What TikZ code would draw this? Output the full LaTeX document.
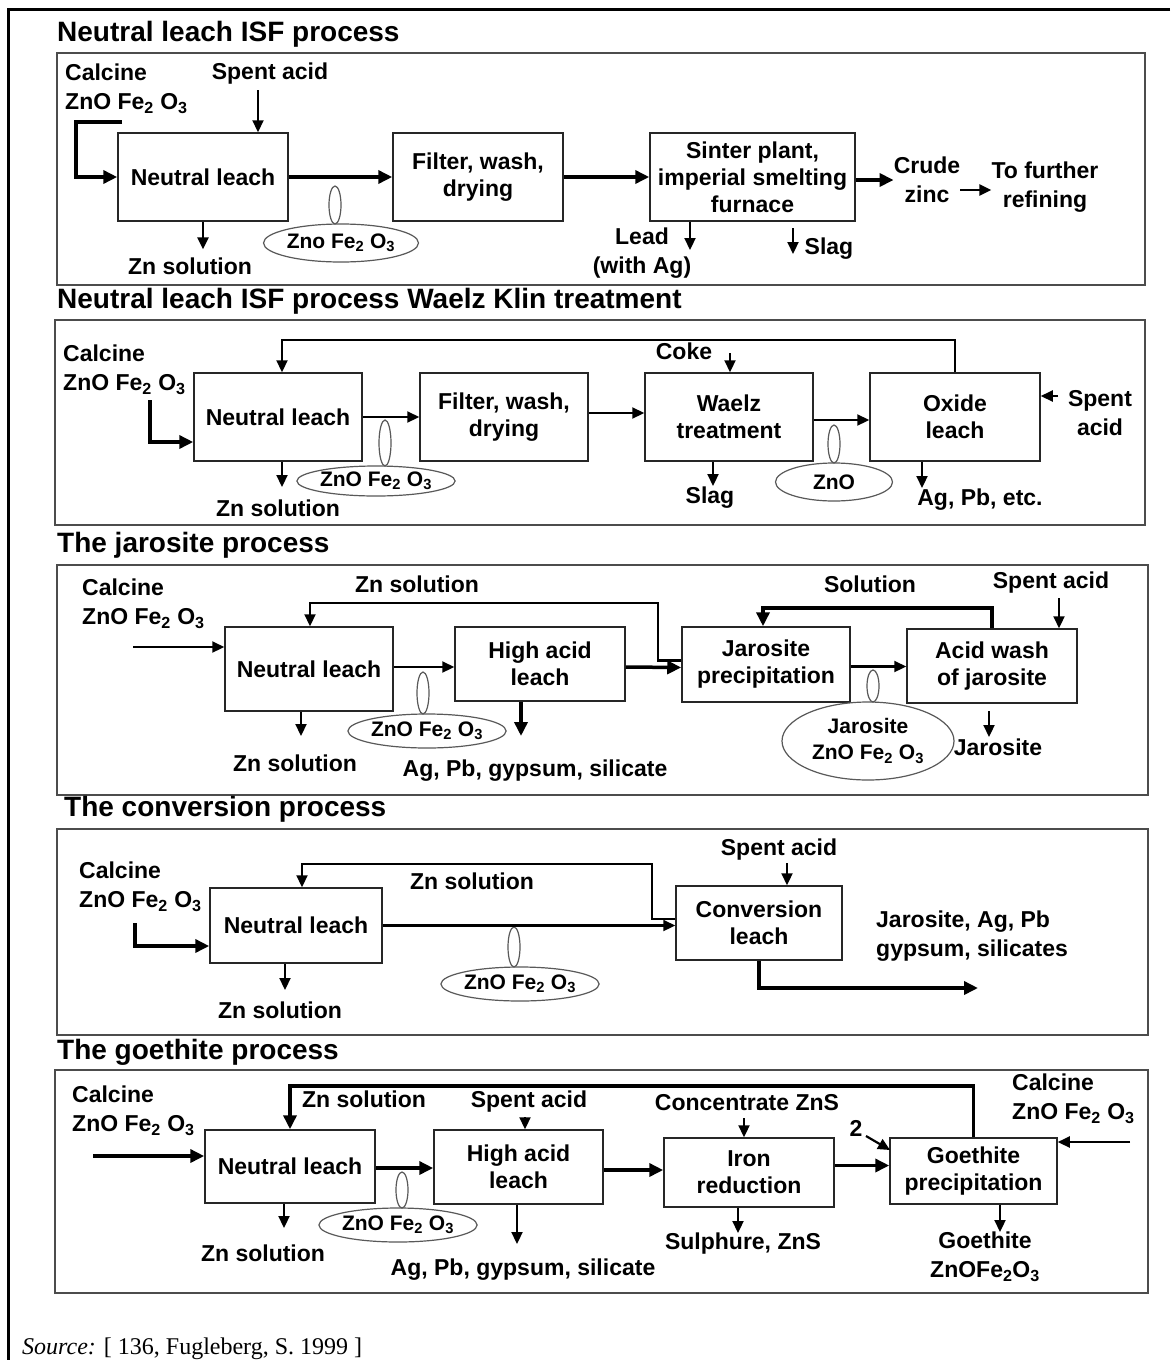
\documentclass[tikz,border=0pt]{standalone}
\usepackage{fontspec}
\setmainfont{Liberation Sans}
\newfontfamily\srcfont{Liberation Serif}
\usetikzlibrary{arrows.meta,shapes.geometric}
\newcommand\fetwo{ZnO Fe\textsubscript{2} O\textsubscript{3}}
\begin{document}
\begin{tikzpicture}[x=1pt,y=-1pt,
  tt/.style={font=\fontsize{28}{32}\selectfont\bfseries, anchor=west, inner sep=0},
  panel/.style={draw=black!70, line width=2pt},
  proc/.style={draw=black!85, line width=1.5pt, align=center, inner sep=0, font=\fontsize{23}{27}\selectfont\bfseries},
  lbl/.style={font=\fontsize{23}{29}\selectfont\bfseries, align=center, inner sep=0},
  ell/.style={ellipse, draw=black!65, line width=1.2pt, inner sep=0, align=center, font=\fontsize{21}{26}\selectfont\bfseries},
  fl/.style={line width=3.5pt, -{Triangle[length=14pt,width=13pt]}},
  fn/.style={line width=2.2pt, -{Triangle[length=12pt,width=11pt]}}
]
\useasboundingbox (0,0) rectangle (1170,1360);
\fill[white] (0,0) rectangle (1170,1360);
\draw[line width=3pt] (1170,9) -- (8,9) -- (8,1360);

% ---------------- Panel 1
\node[tt] (t1) at (57,34) {Neutral leach ISF process};
\draw[panel] (57,53) rectangle (1145,285);
\node[lbl, align=left, anchor=west] (ca1) at (65,89) {Calcine\\\fetwo};
\node[lbl] (sa1) at (270,74) {Spent acid};
\node[proc, minimum width=170, minimum height=88] (nl1) at (203,177) {Neutral leach};
\node[proc, minimum width=170, minimum height=88] (fw1) at (478,177) {Filter, wash,\\drying};
\node[proc, minimum width=205, minimum height=88] (sp1) at (752.5,177) {Sinter plant,\\imperial smelting\\furnace};
\node[lbl] (cz1) at (927,180) {Crude\\zinc};
\node[lbl] (tf1) at (1045,187) {To further\\refining};
\node[lbl] (zs1) at (190,266) {Zn solution};
\node[lbl] (ld1) at (642,253) {Lead\\(with Ag)};
\node[lbl] (sl1) at (829,249) {Slag};
\node[ell, minimum width=12, minimum height=38] (pe1) at (335,205) {};
\node[ell, minimum width=155, minimum height=38] (el1) at (341,243) {Zno Fe\textsubscript{2} O\textsubscript{3}};
\coordinate (c1) at (122,122);
\draw[fl] (c1) -- (76,122) |- (nl1.west);
\coordinate (sa1a) at (258,90);
\draw[fn] (sa1a) -- (sa1a |- nl1.north);
\draw[fl] (nl1.east) -- (fw1.west);
\draw[fl] (fw1.east) -- (sp1.west);
\draw[fl] ([yshift=-3pt]sp1.east) -- ([yshift=-3pt]sp1.east -| cz1.west);
\draw[fn] ([yshift=-10pt]cz1.east) -- ([yshift=-10pt]cz1.east -| tf1.west);
\draw[fn] (nl1.south) -- (nl1.south |- zs1.north) [shorten >=8pt];
\coordinate (ld1a) at (690,250);
\draw[fn] (ld1a |- sp1.south) -- (ld1a);
\coordinate (sl1a) at (793,228);
\coordinate (sl1b) at (793,254);
\draw[fn] (sl1a) -- (sl1b);

% ---------------- Panel 2
\node[tt] (t2) at (57,301) {Neutral leach ISF process Waelz Klin treatment};
\draw[panel] (55,320) rectangle (1145,525);
\node[lbl, align=left, anchor=west] (ca2) at (63,370) {Calcine\\\fetwo};
\node[proc, minimum width=168, minimum height=88] (nl2) at (278,417) {Neutral leach};
\node[proc, minimum width=168, minimum height=88] (fw2) at (504,417) {Filter, wash,\\drying};
\node[proc, minimum width=168, minimum height=88] (wz2) at (729,417) {Waelz\\treatment};
\node[proc, minimum width=170, minimum height=88] (ox2) at (955,417) {Oxide\\leach};
\node[lbl] (zs2) at (278,508) {Zn solution};
\node[lbl] (ck2) at (684,351) {Coke};
\node[lbl] (sg2) at (710,498) {Slag};
\node[lbl] (sp2) at (1100,413) {Spent\\acid};
\node[lbl] (ag2) at (980,500) {Ag, Pb, etc.};
\node[ell, minimum width=12, minimum height=46] (pe2a) at (385,443) {};
\node[ell, minimum width=130, minimum height=30] (el2a) at (376,481) {\fetwo};
\node[ell, minimum width=12, minimum height=38] (pe2b) at (834,444) {};
\node[ell, minimum width=117, minimum height=38] (el2b) at (834,482) {ZnO};
\coordinate (fb2) at (282,340);
\draw[fn] (ox2.north) |- (fb2) -- (fb2 |- nl2.north);
\coordinate (c2) at (150,400);
\draw[fl] (c2) |- ([yshift=-25pt]nl2.west);
\draw[fn] (nl2.east) -- (fw2.west);
\draw[fn] ([yshift=4pt]fw2.east) -- ([yshift=4pt]wz2.west);
\draw[fn] ([yshift=-3pt]wz2.east) -- ([yshift=-3pt]ox2.west);
\coordinate (ck2a) at (730,353);
\draw[fn] (ck2a) -- (ck2a |- wz2.north);
\coordinate (zs2a) at (282,487);
\draw[fn] (zs2a |- nl2.south) -- (zs2a);
\coordinate (sg2a) at (713,486);
\draw[fn] (sg2a |- wz2.south) -- (sg2a);
\coordinate (ag2a) at (922,488);
\draw[fn] (ag2a |- ox2.south) -- (ag2a);
\coordinate (sp2a) at (1058,396);
\draw[fn] (sp2a) -- (sp2a -| ox2.east);

% ---------------- Panel 3
\node[tt] (t3) at (57,545) {The jarosite process};
\draw[panel] (57,565) rectangle (1148,795);
\node[lbl, align=left, anchor=west] (ca3) at (82,604) {Calcine\\\fetwo};
\node[proc, minimum width=168, minimum height=84] (nl3) at (309,669) {Neutral leach};
\node[proc, minimum width=170, minimum height=74] (hal3) at (540,664) {High acid\\leach};
\node[proc, minimum width=168, minimum height=75] (jp3) at (766,664.5) {Jarosite\\precipitation};
\node[proc, minimum width=170, minimum height=74] (aw3) at (992,666) {Acid wash\\of jarosite};
\node[lbl] (zl3) at (417,584) {Zn solution};
\node[lbl] (zs3) at (295,763) {Zn solution};
\node[lbl] (ag3) at (535,771) {Ag, Pb, gypsum, silicate};
\node[lbl] (so3) at (870,584) {Solution};
\node[lbl] (sa3) at (1051,583) {Spent acid};
\node[lbl] (ja3) at (998,747) {Jarosite};
\node[ell, minimum width=12, minimum height=42] (pe3a) at (423,693) {};
\node[ell, minimum width=156, minimum height=34] (el3a) at (427,731) {\fetwo};
\node[ell, minimum width=12, minimum height=32] (pe3b) at (873,686) {};
\node[ell, minimum width=172, minimum height=78] (el3b) at (868,741) {Jarosite\\\fetwo};
\coordinate (c3) at (133,647);
\draw[fn] (c3) -- (c3 -| nl3.west);
\coordinate (z3a) at (658,603);
\coordinate (z3b) at (310,603);
\draw[fn] ([yshift=4pt]jp3.west) -| (z3a) -- (z3b) -- (z3b |- nl3.north);
\draw[fn] ([yshift=2pt]nl3.east) -- ([yshift=2pt]nl3.east -| hal3.west);
\draw[fl] ([yshift=-3pt]hal3.east) -- ([yshift=-3pt]jp3.west);
\coordinate (s3) at (763,608);
\draw[fl] (aw3.north) |- (s3) -- (s3 |- jp3.north);
\draw[fn] ([yshift=-2pt]jp3.east) -- ([yshift=-2pt]jp3.east -| aw3.west);
\coordinate (zs3a) at (301,736);
\draw[fn] (zs3a |- nl3.south) -- (zs3a);
\coordinate (ag3a) at (521,736);
\draw[fl] (ag3a |- hal3.south) -- (ag3a);
\coordinate (sa3a) at (1059,598);
\draw[fn] (sa3a) -- (sa3a |- aw3.north);
\coordinate (ja3a) at (989,737);
\coordinate (ja3b) at (989,711);
\draw[fn] (ja3b) -- (ja3a);

% ---------------- Panel 4
\node[tt] (t4) at (64,809) {The conversion process};
\draw[panel] (57,829) rectangle (1148,1035);
\node[lbl, align=left, anchor=west] (ca4) at (79,887) {Calcine\\\fetwo};
\node[proc, minimum width=172, minimum height=75] (nl4) at (296,925.5) {Neutral leach};
\node[proc, minimum width=166, minimum height=74] (cl4) at (759,923) {Conversion\\leach};
\node[lbl] (zl4) at (472,881) {Zn solution};
\node[lbl] (zs4) at (280,1010) {Zn solution};
\node[lbl] (sa4) at (779,850) {Spent acid};
\node[lbl, align=left, anchor=west] (ou4) at (876,936) {Jarosite, Ag, Pb\\gypsum, silicates};
\node[ell, minimum width=12, minimum height=40] (pe4) at (514,947) {};
\node[ell, minimum width=155, minimum height=34] (el4) at (520,984) {\fetwo};
\coordinate (c4) at (135,923);
\draw[fl] (c4) |- ([yshift=-20.5pt]nl4.west);
\draw[fn] (nl4.east) -- (nl4.east -| cl4.west);
\coordinate (z4a) at (652,864);
\coordinate (z4b) at (302,864);
\draw[fn] ([yshift=4pt]cl4.west) -| (z4a) -- (z4b) -- (z4b |- nl4.north);
\coordinate (sa4a) at (787,863);
\draw[fn] (sa4a) -- (sa4a |- cl4.north);
\coordinate (zs4a) at (285,990);
\draw[fn] (zs4a |- nl4.south) -- (zs4a);
\coordinate (o4) at (978,988);
\draw[fl] (cl4.south) |- (o4);

% ---------------- Panel 5
\node[tt] (t5) at (57,1052) {The goethite process};
\draw[panel] (55,1070) rectangle (1148,1293);
\node[lbl, align=left, anchor=west] (ca5) at (72,1111) {Calcine\\\fetwo};
\node[lbl, align=left, anchor=west] (cr5) at (1012,1099) {Calcine\\\fetwo};
\node[proc, minimum width=170, minimum height=73] (nl5) at (290,1166.5) {Neutral leach};
\node[proc, minimum width=169, minimum height=74] (hal5) at (518.5,1167) {High acid\\leach};
\node[proc, minimum width=170, minimum height=69] (ir5) at (749,1172.5) {Iron\\reduction};
\node[proc, minimum width=167, minimum height=66] (gp5) at (973.5,1171) {Goethite\\precipitation};
\node[lbl] (zl5) at (364,1099) {Zn solution};
\node[lbl] (zs5) at (263,1253) {Zn solution};
\node[lbl] (sa5) at (529,1102) {Spent acid};
\node[lbl] (ag5) at (523,1270) {Ag, Pb, gypsum, silicate};
\node[lbl] (cz5) at (747,1103) {Concentrate ZnS};
\node[lbl] (tw5) at (856,1128) {2};
\node[lbl] (su5) at (743,1244) {Sulphure, ZnS};
\node[lbl] (go5) at (985,1257) {Goethite\\ZnOFe\textsubscript{2}O\textsubscript{3}};
\node[ell, minimum width=12, minimum height=36] (pe5) at (402,1190) {};
\node[ell, minimum width=157, minimum height=34] (el5) at (398,1225) {\fetwo};
\coordinate (c5) at (93,1156);
\draw[fl] (c5) -- (c5 -| nl5.west);
\coordinate (z5) at (290,1086);
\draw[fl] (gp5.north) |- (z5) -- (z5 |- nl5.north);
\draw[fl] ([yshift=-1.5pt]nl5.east) -- ([yshift=-1.5pt]nl5.east -| hal5.west);
\draw[fl] ([yshift=-3pt]hal5.east) -- ([yshift=-3pt]hal5.east -| ir5.west);
\draw[fl] ([yshift=7pt]ir5.east) -- ([yshift=7pt]ir5.east -| gp5.west);
\coordinate (sa5a) at (525,1117);
\draw[fn] (sa5a) -- (sa5a |- hal5.north);
\coordinate (cz5a) at (744,1118);
\draw[fn] (cz5a) -- (cz5a |- ir5.north);
\coordinate (tw5a) at (866,1136);
\coordinate (tw5b) at (890,1150);
\draw[fn] (tw5a) -- (tw5b);
\coordinate (cr5a) at (1130,1142);
\draw[fn] (cr5a) -- (cr5a -| gp5.east);
\coordinate (zs5a) at (284,1228);
\draw[fn] (zs5a |- nl5.south) -- (zs5a);
\coordinate (ag5a) at (517,1244);
\draw[fn] (ag5a |- hal5.south) -- (ag5a);
\coordinate (su5a) at (738,1233);
\draw[fn] (su5a |- ir5.south) -- (su5a);
\coordinate (go5a) at (1000,1232);
\draw[fn] (go5a |- gp5.south) -- (go5a);

\node[anchor=west, inner sep=0, font=\srcfont\fontsize{24}{28}\selectfont] (src) at (22,1349) {\textit{Source:} [ 136, Fugleberg, S. 1999 ]};
\end{tikzpicture}
\end{document}
